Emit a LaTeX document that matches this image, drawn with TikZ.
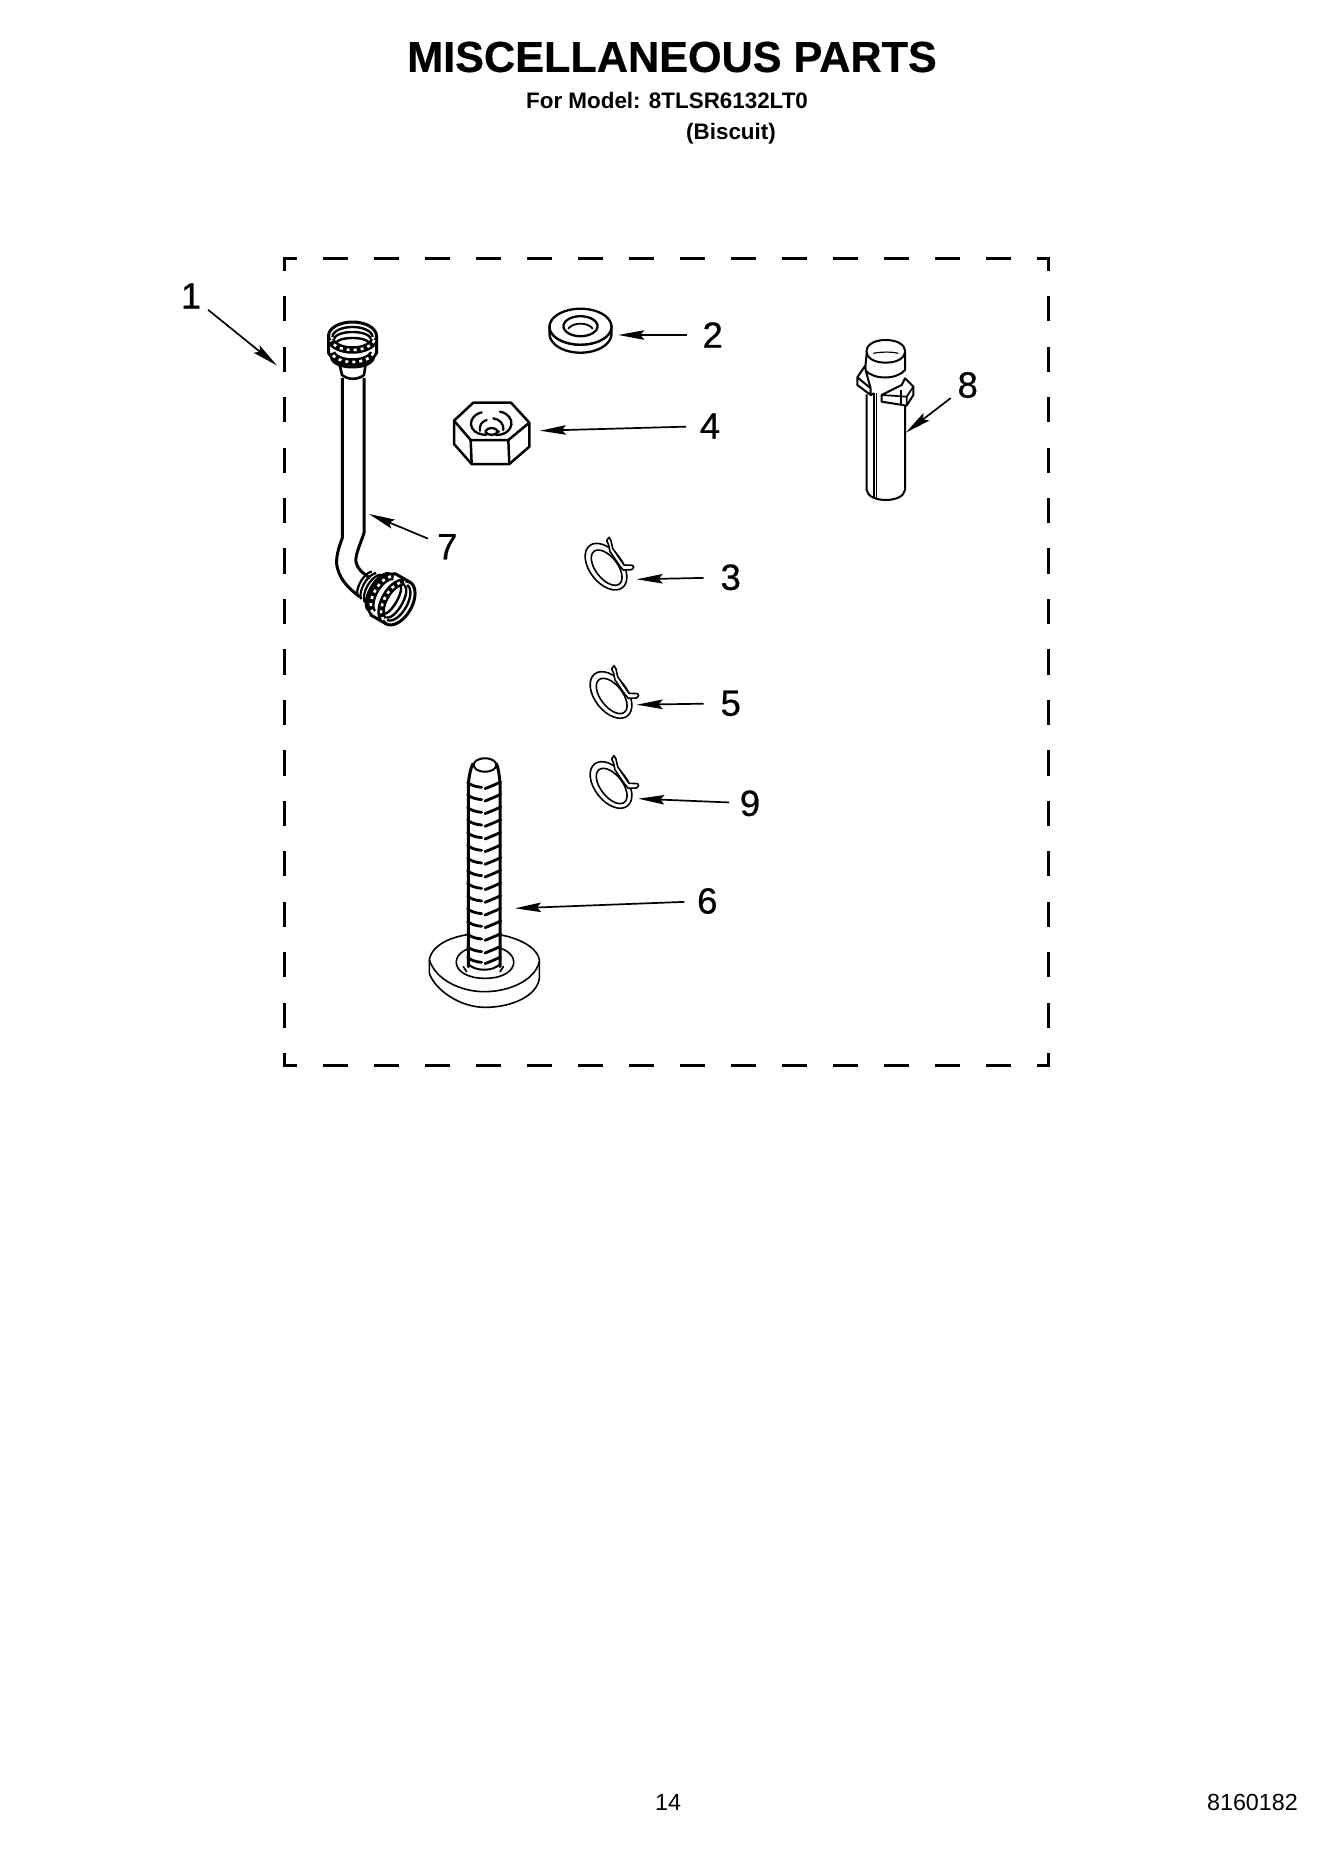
\documentclass[tikz,border=0pt]{standalone}
\usepackage{fontspec}
\setmainfont{Liberation Sans}
\newfontfamily\heavydigits[FakeBold=0.6]{Liberation Sans}
\newfontfamily\heavyhead[FakeBold=0.5]{Liberation Sans Bold}
\usetikzlibrary{arrows.meta}
\tikzset{
  partline/.style={line width=2.3pt,line join=round,line cap=round,fill=white},
  thinpart/.style={line width=1.6pt,line join=round,line cap=round},
  leader/.style={line width=1.7pt,-{Stealth[length=26pt,width=9.5pt,inset=4pt]}},
  callout/.style={font=\heavydigits\fontsize{36.5}{36.5}\selectfont,inner sep=0pt},
  boxdash/.style={line width=3pt,line cap=rect},
  zoomview/.style={x=0.33333pt,y=-0.33333pt},
}
% elliptical arc: centre-offset c on local y, radii, angles
\newcommand\earc[5]{plot[domain=#4:#5,samples=40,variable=\t]({#2*cos(\t)},{#1+#3*sin(\t)})}
\newcommand\knurl[3]{%
  \draw[line width=7.5pt,line cap=butt] \earc{#1}{#2}{#3}{190}{350};
  \draw[line width=2.6pt,white,dash pattern=on 3pt off 4pt] \earc{#1}{#2}{#3}{190}{350};
}
\newcommand\hosenut{%
  \fill[white] \earc{0}{24}{14}{0}{180} -- (-21,-24) \earc{-21}{21}{10}{180}{360} -- cycle;
  \draw[line width=3pt,line join=round] (-24,0) -- (-24,-17) -- (-21,-21) \earc{-21}{21}{10}{180}{360} -- (24,-17) -- (24,0);
  \draw[line width=3pt] \earc{0}{24}{14}{0}{360};
  \knurl{-2}{22}{12}
  \knurl{-15}{21}{11}
  \draw[line width=2.4pt] \earc{-1}{20}{10}{0}{180};
  \draw[line width=2.4pt] \earc{-3}{18}{7}{0}{180};
  \draw[line width=2.4pt] \earc{-7}{16}{5}{0}{180};
}
\newcommand\springclip[2]{%
  \begin{scope}[shift={(#1,#2)},zoomview]
    \draw[thinpart,shift={(138,140)},rotate=-52] (0,0) ellipse [x radius=80,y radius=49];
    \draw[thinpart,shift={(140,143)},rotate=-52] (0,0) ellipse [x radius=62,y radius=33];
    \draw[thinpart,fill=white] (140,62) -- (147,52) -- (153,62) -- (158,85) -- (192,135) -- (218,136) -- (221,142) -- (215,149) -- (190,150)
       .. controls (175,135) and (165,115) .. (150,95) -- (146,75) -- cycle;
  \end{scope}
}
\begin{document}
\begin{tikzpicture}[x=1pt,y=-1pt]
\useasboundingbox (0,0) rectangle (1339,1849);
\fill[white] (0,0) rectangle (1339,1849);

% heading and footer
\node[font=\heavyhead\fontsize{43.2}{43}\selectfont,inner sep=0pt] (title) at (672,57) {MISCELLANEOUS PARTS};
\node[font=\fontsize{22.4}{23}\bfseries\selectfont,inner sep=0pt,anchor=west] (model) at (526,101) {For Model: 8TLSR6132LT0};
\node[font=\fontsize{22.4}{23}\bfseries\selectfont,inner sep=0pt,anchor=west] (color) at (686,134) {(Biscuit)};
\node[font=\fontsize{23.3}{24}\selectfont,inner sep=0pt] (page) at (668,1802) {14};
\node[font=\fontsize{23.3}{24}\selectfont,inner sep=0pt,anchor=east] (code) at (1298,1802) {8160182};

% dashed kit border
\coordinate (bA) at (284.3,258.3);
\coordinate (bB) at (1048.7,258.3);
\coordinate (bC) at (1048.7,1065.7);
\coordinate (bD) at (284.3,1065.7);
\draw[boxdash,dash pattern=on 22.5pt off 28.5pt,dash phase=11.25pt] (bA) -- (bB);
\draw[boxdash,dash pattern=on 22.5pt off 28.5pt,dash phase=11.25pt] (bD) -- (bC);
\draw[boxdash,dash pattern=on 22.2pt off 28.26pt,dash phase=11.1pt] (bA) -- (bD);
\draw[boxdash,dash pattern=on 22.2pt off 28.26pt,dash phase=11.1pt] (bB) -- (bC);

% part 7 hose
\draw[line width=3pt,line join=round] (342.3,378) -- (342.3,538) .. controls (337,552) and (335,562) .. (338,570) .. controls (341,580) and (348,588) .. (360,597);
\draw[line width=3pt,line join=round] (364,378) -- (364,533) .. controls (360,545) and (355,555) .. (356,562) .. controls (357,568) and (362,573) .. (370,578);
\draw[line width=2.6pt,fill=white,line join=round] (339,362) -- (342,375) .. controls (348,380) and (358,380) .. (364,375) -- (366,362) -- cycle;
\begin{scope}[shift={(352.5,336)},rotate=180]
  \hosenut
\end{scope}
\begin{scope}[shift={(398,603)},rotate=60]
  \draw[line width=2.2pt] \earc{-26}{17}{9}{200}{340};
  \draw[line width=2.2pt] \earc{-31}{16}{8}{200}{340};
  \draw[line width=2.2pt] \earc{-36}{15}{7}{200}{340};
  \hosenut
\end{scope}

% part 2 washer
\begin{scope}[shift={(580.5,326.7)}]
  \draw[partline] (-31,0) -- (-31,7) \earc{7}{31}{19}{180}{0} -- (31,0) \earc{0}{31}{18}{0}{180} -- cycle;
  \draw[partline] \earc{0}{31}{18}{0}{360};
  \draw[partline] \earc{-0.5}{17}{10}{0}{360};
  \draw[line width=1.8pt] \earc{5}{13}{8}{200}{340};
\end{scope}

% part 4 hex nut
\begin{scope}[shift={(300,300)},zoomview]
  \draw[line width=2.5pt,line join=round,fill=white] (520,308) -- (633,308) -- (688,368) -- (688,440) -- (628,492) -- (515,492) -- (462,432) -- (462,362) -- cycle;
  \draw[line width=2.5pt,line join=round] (462,362) -- (512,420) -- (625,420) -- (688,368);
  \draw[line width=2.5pt] (512,420) -- (515,492) (625,420) -- (628,492);
  \draw[line width=2.3pt,line cap=round] (545,337) .. controls (505,345) and (495,400) .. (558,405);
  \draw[line width=2.3pt,line cap=round] (600,335) .. controls (650,345) and (645,405) .. (588,405);
  \draw[line width=2.3pt,line cap=round] (540,392) .. controls (538,375) and (545,365) .. (560,360);
  \draw[line width=2.3pt,line cap=round] (580,355) .. controls (600,358) and (612,372) .. (610,390);
  \draw[line width=2.3pt] (555,395) .. controls (565,380) and (585,380) .. (595,395) .. controls (585,408) and (565,408) .. (555,395);
\end{scope}

% part 8 tube
\begin{scope}[shift={(520,290)},zoomview]
  \draw[partline,line width=2pt] (1040,315) -- (1040,600) .. controls (1045,640) and (1150,640) .. (1155,600) -- (1155,340);
  \draw[line width=1.2pt] (1062,310) -- (1062,622) (1070,310) -- (1070,624);
  \draw[partline,line width=2pt] (1040,190) -- (1035,240) .. controls (1060,270) and (1130,270) .. (1155,240) -- (1155,190);
  \draw[partline,line width=2pt] (1097,150) .. controls (1175,150) and (1175,218) .. (1097,218) .. controls (1020,218) and (1020,150) .. (1097,150) -- cycle;
  \draw[line width=1.2pt] (1060,190) .. controls (1085,185) and (1115,185) .. (1135,190);
  \draw[partline,line width=2pt] (1012,262) -- (1035,228) -- (1038,245) -- (1052,295) -- (1052,315) -- (1012,285) -- cycle;
  \draw[line width=2pt] (1012,262) -- (1052,295);
  \draw[line width=2pt] (1052,315) -- (1062,310);
  \draw[partline,line width=2pt] (1155,265) -- (1180,290) -- (1180,315) -- (1160,347) -- (1085,335) -- (1085,315) -- (1145,285) -- cycle;
  \draw[line width=1.7pt] (1085,315) -- (1160,320) -- (1180,290) (1160,320) -- (1160,347) (1143,300) -- (1143,342);
\end{scope}

% clips 3, 5, 9
\springclip{560}{520}
\springclip{565}{648.3}
\springclip{565}{738.3}

% part 6 bolt
\begin{scope}[shift={(400,740)},zoomview]
  \draw[thinpart,fill=white] (88,660) -- (88,700) .. controls (105,750) and (180,802) .. (255,802) .. controls (340,802) and (412,765) .. (418,715) -- (418,660) .. controls (410,610) and (320,580) .. (253,580) .. controls (170,580) and (95,610) .. (88,660) -- cycle;
  \draw[thinpart] (88,660) .. controls (110,725) and (190,755) .. (253,755) .. controls (330,755) and (405,720) .. (418,665);
  \draw[thinpart] (255,618) .. controls (370,618) and (370,715) .. (255,715) .. controls (140,715) and (140,618) .. (255,618) -- cycle;
  \draw[thinpart] (190,680) -- (200,695) (310,680) -- (300,695);
  \fill[white] (205,130) -- (218,75) -- (290,75) -- (300,130) -- (300,680) -- (205,680) -- cycle;
  \draw[line width=3pt,line cap=round] (205,680) -- (205,130) .. controls (208,105) and (212,85) .. (218,72);
  \draw[line width=3pt,line cap=round] (300,680) -- (300,130) .. controls (298,105) and (295,85) .. (290,72);
  \draw[line width=2pt] (255,55) .. controls (300,55) and (300,95) .. (255,95) .. controls (210,95) and (210,55) .. (255,55) -- cycle;
  \foreach \yy in {128,165,203,241,279,317,355,393,431,469,507,545,583,621,653}{
    \draw[line width=2.8pt,line cap=round] (203,\yy) .. controls (215,\yy+8) and (225,\yy+12) .. (245,\yy+14);
    \draw[line width=2.8pt,line cap=round] (302,\yy-2) .. controls (285,\yy+6) and (270,\yy+12) .. (255,\yy+18);
  }
  \draw[line width=2pt] (205,672) .. controls (225,695) and (280,695) .. (300,672);
\end{scope}

% callout numbers
\node[callout] (n1) at (191,296) {1};
\node[callout] (n2) at (712.7,335) {2};
\node[callout] (n3) at (730.7,577.3) {3};
\node[callout] (n4) at (710,426) {4};
\node[callout] (n5) at (730.7,703.3) {5};
\node[callout] (n6) at (707.3,901) {6};
\node[callout] (n7) at (447.3,546.7) {7};
\node[callout] (n8) at (967.7,385) {8};
\node[callout] (n9) at (750,803.3) {9};

% arrow targets
\coordinate (t1) at (277,365.5);
\coordinate (t2) at (618.3,335);
\coordinate (t3) at (636.7,579.3);
\coordinate (t4) at (540,430.7);
\coordinate (t5) at (636.7,704.7);
\coordinate (t6) at (515,908.3);
\coordinate (t7) at (369,514);
\coordinate (t8) at (905.7,432.7);
\coordinate (t9) at (638.3,798.7);

\draw[leader,shorten <=22pt] (n1.center) -- (t1);
\draw[leader,shorten <=26pt] (n2.center) -- (t2);
\draw[leader,shorten <=27pt] (n3.center) -- (t3);
\draw[leader,shorten <=24pt] (n4.center) -- (t4);
\draw[leader,shorten <=27pt] (n5.center) -- (t5);
\draw[leader,shorten <=23pt] (n6.center) -- (t6);
\draw[leader,shorten <=21pt] (n7.center) -- (t7);
\draw[leader,shorten <=21.5pt] (n8.center) -- (t8);
\draw[leader,shorten <=21pt] (n9.center) -- (t9);
\end{tikzpicture}
\end{document}
